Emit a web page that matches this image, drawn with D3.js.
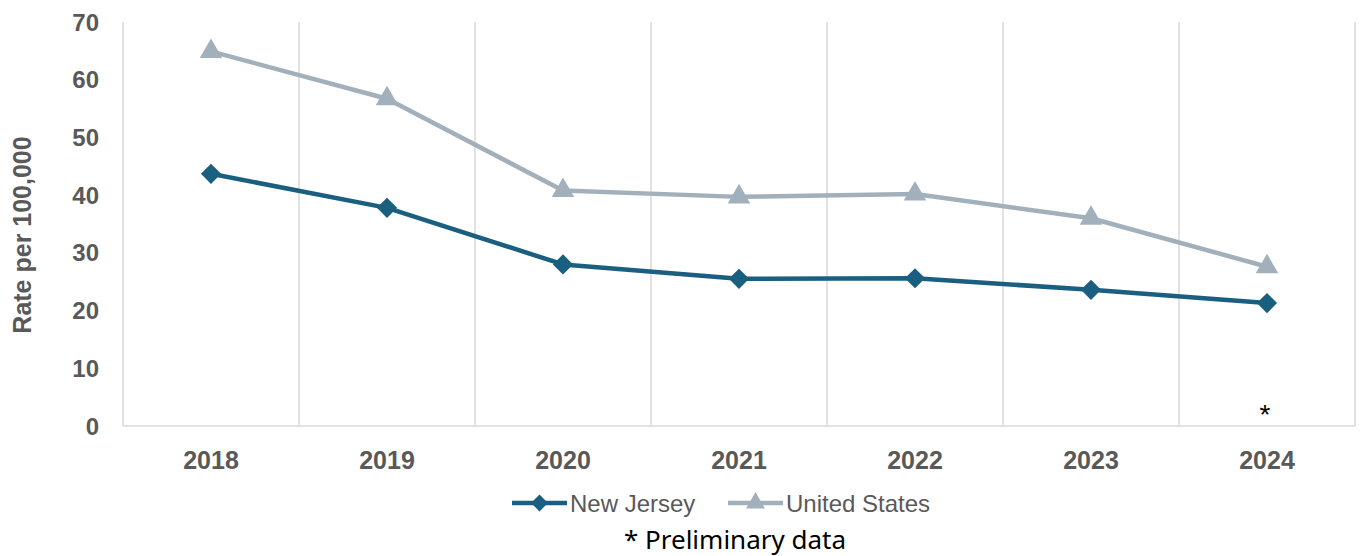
<!DOCTYPE html>
<html>
<head>
<meta charset="utf-8">
<script src="https://cdn.jsdelivr.net/npm/d3@7"></script>
<style>
  body { margin: 0; background: #fff; }
  svg { font-family: "Liberation Sans", Arial, sans-serif; }
</style>
</head>
<body>
<svg width="1361" height="556"></svg>
<script>
var years = ["2018", "2019", "2020", "2021", "2022", "2023", "2024"]
var newJersey = [43.7, 37.8, 28.0, 25.5, 25.6, 23.6, 21.3]
var unitedStates = [64.9, 56.7, 40.8, 39.7, 40.2, 36.0, 27.6]
var yTicks = [0, 10, 20, 30, 40, 50, 60, 70]

var svg = d3.select("svg")
var plotLeft = 123, plotRight = 1355, plotTop = 22, plotBottom = 426

var x = d3.scaleBand().domain(years).range([plotLeft, plotRight])
var y = d3.scaleLinear().domain([0, 70]).range([plotBottom, plotTop])

// vertical gridlines between categories
var edges = years.map(d => x(d)).concat([plotRight])
svg.selectAll("line.grid")
  .data(edges)
  .join("line")
  .attr("x1", d => d).attr("x2", d => d)
  .attr("y1", plotTop).attr("y2", plotBottom)
  .attr("stroke", "#d9d9d9").attr("stroke-width", 1.5)

svg.append("line")
  .attr("x1", plotLeft).attr("x2", plotRight)
  .attr("y1", plotBottom).attr("y2", plotBottom)
  .attr("stroke", "#d9d9d9").attr("stroke-width", 1.5)

// y tick labels
svg.selectAll("text.ytick")
  .data(yTicks)
  .join("text")
  .attr("x", 99)
  .attr("y", d => y(d))
  .attr("dy", "0.36em")
  .attr("text-anchor", "end")
  .attr("font-size", 24).attr("font-weight", "bold")
  .attr("fill", "#595959")
  .text(d => d)

svg.selectAll("text.xtick")
  .data(years)
  .join("text")
  .attr("x", d => x(d) + x.bandwidth() / 2)
  .attr("y", 469)
  .attr("text-anchor", "middle")
  .attr("font-size", 25).attr("font-weight", "bold")
  .attr("fill", "#595959")
  .text(d => d)

svg.append("text")
  .attr("transform", "translate(31,235) rotate(-90)")
  .attr("text-anchor", "middle")
  .attr("font-size", 25).attr("font-weight", "bold")
  .attr("fill", "#595959")
  .text("Rate per 100,000")

var cx = d => x(d) + x.bandwidth() / 2
var series = [
  { name: "New Jersey", values: newJersey, color: "#1a5e80", shape: d3.symbolDiamond2, size: 260 },
  { name: "United States", values: unitedStates, color: "#a2b0bc", shape: d3.symbolTriangle, size: 220 }
]

var line = d3.line().x((d, i) => cx(years[i])).y(d => y(d))

// draw US first so NJ sits on top
series.slice().reverse().forEach(function(s) {
  svg.append("path")
    .attr("d", line(s.values))
    .attr("fill", "none")
    .attr("stroke", s.color)
    .attr("stroke-width", 4.5)
    .attr("stroke-linejoin", "round")
  svg.selectAll(null)
    .data(s.values)
    .join("path")
    .attr("transform", (d, i) => "translate(" + cx(years[i]) + "," + y(d) + ")")
    .attr("d", d3.symbol().type(s.shape).size(s.size))
    .attr("fill", s.color)
})

// asterisk for preliminary 2024
svg.append("text")
  .attr("x", cx("2024") - 2)
  .attr("y", 424)
  .attr("text-anchor", "middle")
  .attr("font-size", 28)
  .attr("fill", "#000")
  .text("*")

// legend
var legendX = [512, 728]
series.forEach(function(s, i) {
  var g = svg.append("g").attr("transform", "translate(" + legendX[i] + ",503)")
  g.append("line").attr("x1", 0).attr("x2", 55)
    .attr("stroke", s.color).attr("stroke-width", 4.5)
  g.append("path").attr("transform", "translate(27.5,0)")
    .attr("d", d3.symbol().type(s.shape).size(s.size * 0.7))
    .attr("fill", s.color)
  g.append("text").attr("x", 58).attr("dy", "0.36em")
    .attr("font-size", 24).attr("fill", "#595959")
    .text(s.name)
})

svg.append("text")
  .attr("x", 735).attr("y", 549)
  .attr("text-anchor", "middle")
  .attr("font-family", "'Noto Sans', sans-serif")
  .attr("font-size", 26)
  .attr("fill", "#000")
  .text("* Preliminary data")
</script>
</body>
</html>
